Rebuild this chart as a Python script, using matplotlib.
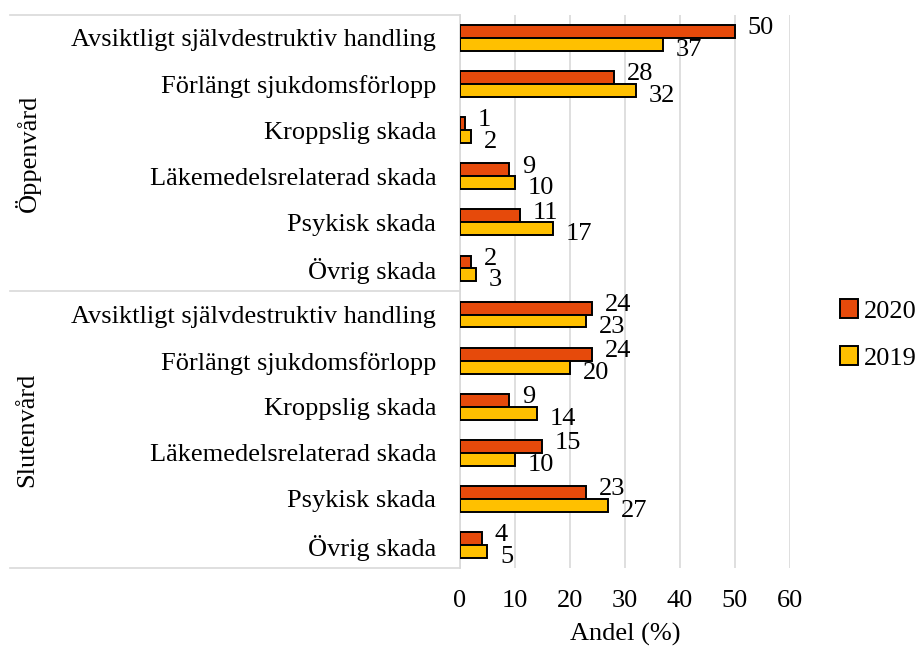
import numpy as np
import matplotlib
matplotlib.use("Agg")
import matplotlib.pyplot as plt
import matplotlib.transforms as mtransforms
from matplotlib.patches import Patch

plt.rcParams["font.family"] = ["Liberation Serif", "DejaVu Serif"]

# Data: share (%) per injury type, outpatient (Öppenvård) and inpatient (Slutenvård)
CATEGORIES = [
    "Avsiktligt självdestruktiv handling",
    "Förlängt sjukdomsförlopp",
    "Kroppslig skada",
    "Läkemedelsrelaterad skada",
    "Psykisk skada",
    "Övrig skada",
]
GROUPS = ["Öppenvård", "Slutenvård"]
OPPEN_2020 = [50, 28, 1, 9, 11, 2]
OPPEN_2019 = [37, 32, 2, 10, 17, 3]
SLUTEN_2020 = [24, 24, 9, 15, 23, 4]
SLUTEN_2019 = [23, 20, 14, 10, 27, 5]
XTICKS = [0, 10, 20, 30, 40, 50, 60]

C2020 = "#E64A0B"
C2019 = "#FFC000"
FS = 19

labels = CATEGORIES + CATEGORIES
v2020 = np.array(OPPEN_2020 + SLUTEN_2020)
v2019 = np.array(OPPEN_2019 + SLUTEN_2019)
y = np.arange(len(labels))
h = 0.28

fig = plt.figure(figsize=(9.19, 6.47), dpi=100)
ax = fig.add_axes([0.5005, 0.122, 0.3591, 0.855])

ax.barh(y - h / 2, v2020, height=h, color=C2020, edgecolor="black", linewidth=1.4, zorder=3)
ax.barh(y + h / 2, v2019, height=h, color=C2019, edgecolor="black", linewidth=1.4, zorder=3)

for yi, a, b in zip(y, v2020, v2019):
    ax.text(a + 2.3, yi - h / 2 - 0.07, f"{a}", ha="left", va="center", fontsize=FS)
    ax.text(b + 2.3, yi + h / 2 + 0.12, f"{b}", ha="left", va="center", fontsize=FS)

ax.set_xlim(0, 60)
ax.set_ylim(len(labels) - 0.5, -0.5)
ax.set_xticks(XTICKS)
ax.set_xticklabels([str(t) for t in XTICKS], fontsize=FS)
ax.set_yticks(y)
ax.set_yticklabels(labels, fontsize=FS)
ax.tick_params(axis="y", length=0, pad=17)
ax.tick_params(axis="x", length=0, pad=16)
ax.set_xlabel("Andel (%)", fontsize=FS, labelpad=8)

ax.grid(axis="x", color="#d9d9d9", linewidth=1.2, zorder=0)
for s in ["top", "right", "bottom"]:
    ax.spines[s].set_visible(False)
ax.spines["left"].set_color("#d9d9d9")
ax.spines["left"].set_linewidth(1.2)

# category-group frame on the left
trans = mtransforms.blended_transform_factory(ax.transAxes, ax.transData)
for yl in [-0.5, 5.5, 11.5]:
    ax.plot([-1.364, 0], [yl, yl], color="#d9d9d9", linewidth=1.2,
            transform=trans, clip_on=False)
for gi, g in enumerate(GROUPS):
    ax.text(-1.31, 2.5 + 6 * gi, g, rotation=90, ha="center", va="center",
            fontsize=FS, transform=trans)

handles = [Patch(facecolor=C2020, edgecolor="black", linewidth=1.4),
           Patch(facecolor=C2019, edgecolor="black", linewidth=1.4)]
fig.legend(handles, ["2020", "2019"], loc="center left",
           bbox_to_anchor=(0.914, 0.483), frameon=False, fontsize=FS,
           borderpad=0, borderaxespad=0,
           handlelength=0.7, handleheight=0.7, handletextpad=0.2,
           labelspacing=0.9)

fig.savefig("out.png", dpi=100)
